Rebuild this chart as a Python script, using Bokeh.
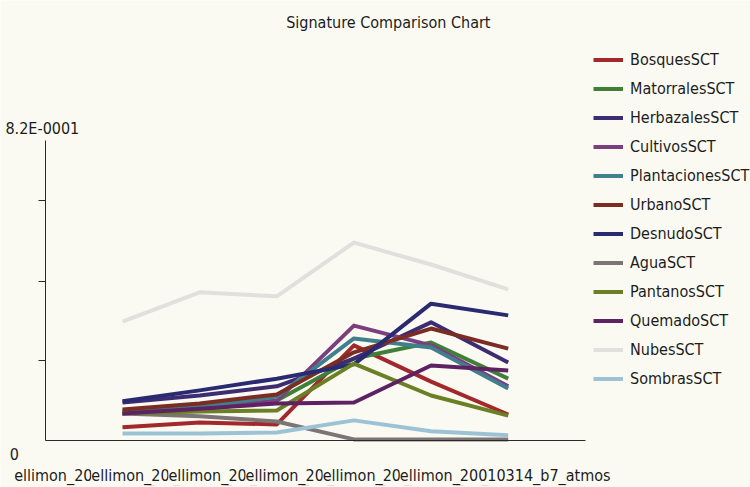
from bokeh.plotting import figure
from bokeh.models import Legend, LegendItem, Label, FixedTicker
from bokeh.embed import file_html
from bokeh.resources import INLINE

# ---- data ----
bands = ["ellimon_20010314_b1_atmos", "ellimon_20010314_b2_atmos", "ellimon_20010314_b3_atmos",
         "ellimon_20010314_b4_atmos", "ellimon_20010314_b5_atmos", "ellimon_20010314_b7_atmos"]
band_pos = [0, 1, 2, 3, 4, 5]

bosques      = [0.036, 0.049, 0.044, 0.260, 0.161, 0.071]
matorrales   = [0.079, 0.090, 0.109, 0.224, 0.268, 0.169]
herbazales   = [0.104, 0.123, 0.148, 0.224, 0.323, 0.213]
cultivos     = [0.074, 0.085, 0.109, 0.314, 0.260, 0.148]
plantaciones = [0.077, 0.093, 0.120, 0.279, 0.254, 0.142]
urbano       = [0.085, 0.101, 0.126, 0.241, 0.306, 0.251]
desnudo      = [0.107, 0.137, 0.169, 0.208, 0.374, 0.342]
agua         = [0.074, 0.066, 0.052, 0.003, 0.003, 0.003]
pantanos     = [0.074, 0.079, 0.082, 0.210, 0.123, 0.068]
quemado      = [0.074, 0.087, 0.101, 0.104, 0.205, 0.191]
nubes        = [0.325, 0.405, 0.394, 0.541, 0.481, 0.413]
sombras      = [0.019, 0.019, 0.022, 0.055, 0.025, 0.014]

series_names = ["BosquesSCT", "MatorralesSCT", "HerbazalesSCT", "CultivosSCT", "PlantacionesSCT",
                "UrbanoSCT", "DesnudoSCT", "AguaSCT", "PantanosSCT", "QuemadoSCT", "NubesSCT", "SombrasSCT"]
series_values = [bosques, matorrales, herbazales, cultivos, plantaciones, urbano, desnudo,
                 agua, pantanos, quemado, nubes, sombras]
series_colors = ["#a2282c", "#3f7f38", "#3c2d72", "#7b3f80", "#417f8c", "#7b2c23", "#2a2a73",
                 "#7d7575", "#6b7f24", "#5c2262", "#e0e0dd", "#9cc3d5"]

y_max = 0.82
y_inner_ticks = [0.2187, 0.4346, 0.656]

BG = "#fafaf3"
FONT = "'DejaVu Sans Condensed', 'Liberation Sans', sans-serif"
TXT = "#1c1c1c"

# frame covers the whole canvas; axes are pinned inside it
p = figure(width=750, height=487, x_range=(-1.5815, 8.141), y_range=(-0.1285, 1.2027),
           output_backend="svg", toolbar_location=None,
           min_border_left=0, min_border_right=0, min_border_top=0, min_border_bottom=0)
p.background_fill_color = BG
p.border_fill_color = BG
p.outline_line_color = None
p.grid.visible = False

ya = p.yaxis[0]
ya.fixed_location = -1
ya.bounds = (0, y_max)
ya.ticker = FixedTicker(ticks=y_inner_ticks)
ya.major_label_overrides = {t: "" for t in y_inner_ticks}
ya.major_tick_out = 7
ya.major_tick_in = 0
ya.minor_tick_out = 0
ya.minor_tick_in = 0
ya.axis_line_color = "#2a2a2a"
ya.major_tick_line_color = "#2a2a2a"

xa = p.xaxis[0]
xa.fixed_location = 0
xa.bounds = (-1, 6)
xa.ticker = FixedTicker(ticks=[])
xa.major_tick_out = 0
xa.minor_tick_out = 0
xa.axis_line_color = "#2a2a2a"

items = []
for name, vals, col in zip(series_names, series_values, series_colors):
    r = p.line(band_pos, vals, line_color=col, line_width=4, line_join="round")
    items.append(LegendItem(label=name, renderers=[r]))

legend = Legend(items=items, location=(593, 98), padding=0, margin=0,
                spacing=8, label_height=21, glyph_height=21, glyph_width=30, label_standoff=7,
                label_text_font=FONT, label_text_font_size="16px", label_text_color=TXT,
                border_line_color=None, background_fill_alpha=0)
p.add_layout(legend)

# title
p.add_layout(Label(x=-1, y=y_max, x_offset=343, y_offset=118, text="Signature Comparison Chart",
                   text_align="center", text_baseline="middle", text_font=FONT,
                   text_font_size="16px", text_color=TXT))
# y end labels
p.add_layout(Label(x=-1, y=y_max, x_offset=-3, y_offset=12, text="8.2E-0001",
                   text_align="center", text_baseline="middle", text_font=FONT,
                   text_font_size="16px", text_color=TXT))
p.add_layout(Label(x=-1, y=0, x_offset=-31, y_offset=-14, text="0",
                   text_align="center", text_baseline="middle", text_font=FONT,
                   text_font_size="16px", text_color=TXT))
# category labels, each drawn over the previous one
for xpos, lab in zip(band_pos, bands):
    p.add_layout(Label(x=xpos, y=0, x_offset=-3, y_offset=-35, text=lab, text_align="center",
                       text_baseline="middle", text_font=FONT, text_font_size="16px",
                       text_color=TXT, background_fill_color=BG, background_fill_alpha=1.0))

open("out.html", "w").write(file_html(p, INLINE))
